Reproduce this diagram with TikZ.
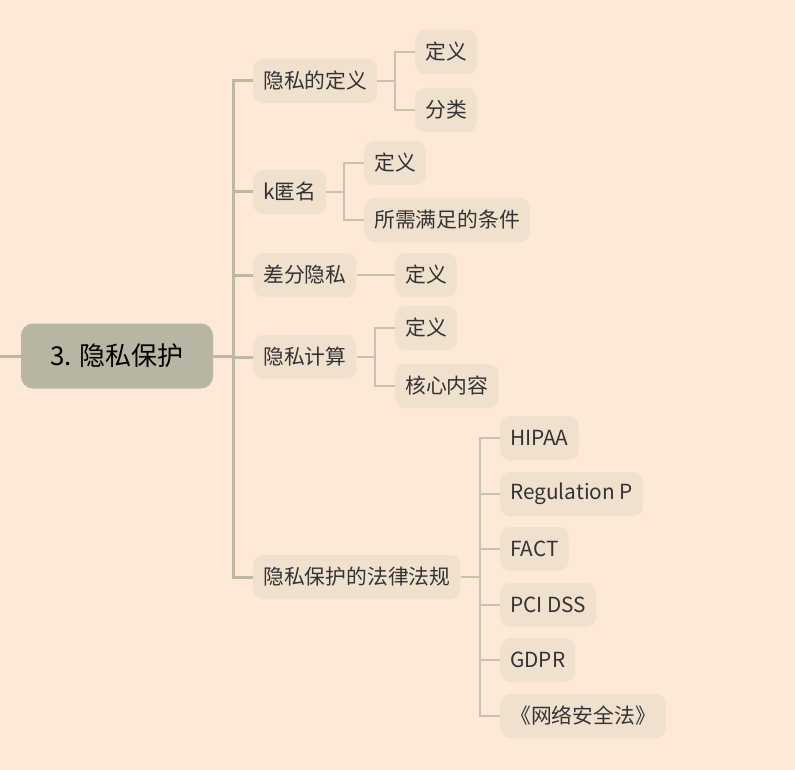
\documentclass[tikz,border=0pt]{standalone}
\usepackage{fontspec}
\setmainfont{Noto Sans CJK SC}
\definecolor{bgPeach}{RGB}{254,233,216}
\definecolor{rootFill}{RGB}{184,182,163}
\definecolor{leafFill}{RGB}{240,225,207}
\definecolor{mainGray}{RGB}{188,184,164}
\definecolor{subGray}{RGB}{200,195,176}
\definecolor{textDark}{RGB}{51,51,51}
\tikzset{
	% central topic
	rootbox/.style={fill=rootFill, rounded corners=12pt, minimum width=192pt, minimum height=65pt,
		font=\fontsize{26}{26}\selectfont, text=black},
	% all other topics, placed by their left edge
	topic/.style={fill=leafFill, rounded corners=10pt, minimum height=44pt, inner xsep=10pt,
		anchor=west, font=\fontsize{20.8}{20.8}\selectfont, text=textDark},
	mainline/.style={draw=mainGray, line width=3pt},
	subline/.style={draw=subGray, line width=2pt}
}
\begin{document}
\begin{tikzpicture}[x=1pt, y=-1pt]
		\useasboundingbox (0,0) rectangle (795,770);
		\fill[bgPeach] (0,0) rectangle (795,770);
		
		% Central topic
		\node[rootbox] (root) at (117,356) {3. 隐私保护};
		\coordinate (edgeIn) at (0,356);
		\coordinate (trunk) at (233,356);
		
		% First level
		\node[topic] (privDef) at (253,81) {隐私的定义};
		\node[topic] (kAnon) at (253,192) {k匿名};
		\node[topic] (diffPriv) at (253,275) {差分隐私};
		\node[topic] (privComp) at (253,357) {隐私计算};
		\node[topic] (privLaw) at (253,577) {隐私保护的法律法规};
		
		% Second level
		\node[topic] (defMeaning) at (415,52) {定义};
		\node[topic] (defKinds) at (415,110) {分类};
		\node[topic] (kMeaning) at (364,163) {定义};
		\node[topic] (kCond) at (364,220) {所需满足的条件};
		\node[topic] (diffMeaning) at (395,275) {定义};
		\node[topic] (compMeaning) at (395,328) {定义};
		\node[topic] (compCore) at (395,386) {核心内容};
		\node[topic] (lawHipaa) at (500,438) {HIPAA};
		\node[topic] (lawRegP) at (500,494) {Regulation P};
		\node[topic] (lawFact) at (500,549) {FACT};
		\node[topic] (lawPci) at (500,605) {PCI DSS};
		\node[topic] (lawGdpr) at (500,660) {GDPR};
		\node[topic] (lawCyber) at (500,716) {《网络安全法》};
		
		\coordinate (defFork) at (395,81);
		\coordinate (kFork) at (344,192);
		\coordinate (compFork) at (375,357);
		\coordinate (lawFork) at (480,577);
		
		% Connectors
		\draw[mainline] (edgeIn) -- (root.west);
		\foreach \n in {privDef, kAnon, diffPriv, privComp, privLaw}{\draw[mainline] (root.east) -- (trunk) |- (\n.west);}
		\foreach \n in {defMeaning, defKinds}{\draw[subline] (privDef.east) -- (defFork) |- (\n.west);}
		\foreach \n in {kMeaning, kCond}{\draw[subline] (kAnon.east) -- (kFork) |- (\n.west);}
		\draw[subline] (diffPriv.east) -- (diffMeaning.west);
		\foreach \n in {compMeaning, compCore}{\draw[subline] (privComp.east) -- (compFork) |- (\n.west);}
		\foreach \n in {lawHipaa, lawRegP, lawFact, lawPci, lawGdpr, lawCyber}{\draw[subline] (privLaw.east) -- (lawFork) |- (\n.west);}
	\end{tikzpicture}
\end{document}
